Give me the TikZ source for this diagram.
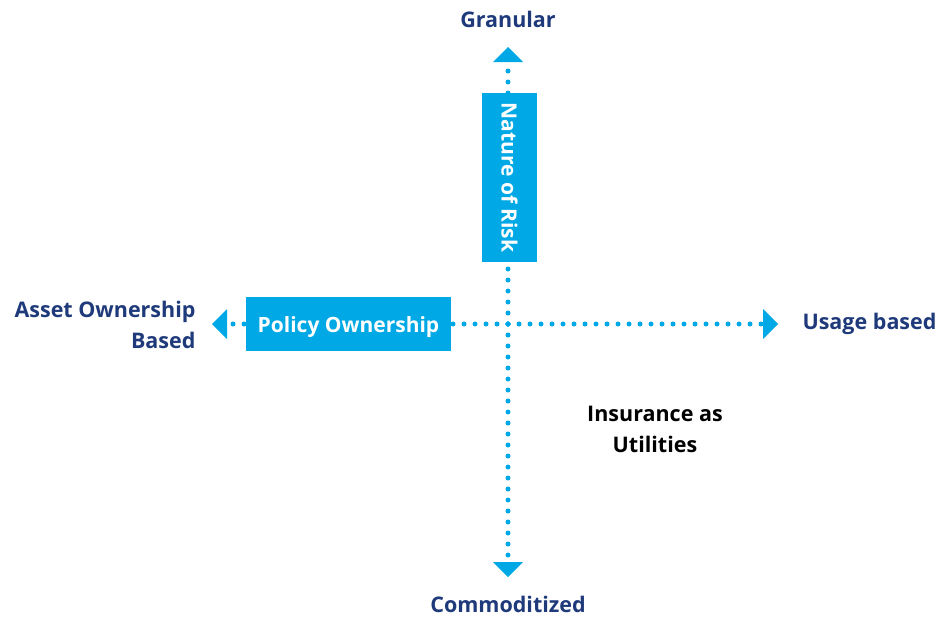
\documentclass[tikz,border=0pt]{standalone}
\usepackage{fontspec}
\setmainfont{Open Sans}
\usepackage{xcolor}
\usepackage{tikz}
\usetikzlibrary{arrows.meta,shapes,calc}

\definecolor{riskblue}{RGB}{0,169,230}
\definecolor{labelblue}{RGB}{31,58,122}

\begin{document}
\begin{tikzpicture}[x=1pt,y=-1pt]
            \tikzset{axis/.style = {riskblue, line width=5pt, line cap=round, dash pattern=on 0pt off 11pt}}
            \tikzset{tip/.style = {-{Triangle[width=30pt,length=15pt,line width=0pt]}}}
            \tikzset{box/.style = {fill=riskblue, text=white, font=\bfseries\fontsize{21}{25}\selectfont, inner sep=0pt}}
            \tikzset{end/.style = {text=labelblue, font=\bfseries\fontsize{21.5}{31}\selectfont}}
            \useasboundingbox (0,0) rectangle (941,621);
            
            % axis ends
            \coordinate (centre) at (508,324);
            \coordinate (up) at (508,47);
            \coordinate (down) at (508,577);
            \coordinate (left) at (212,324);
            \coordinate (right) at (778,324);
            
            % axes
            \draw[axis,tip] (centre) -- (up);
            \draw[axis,tip] (centre) -- (down);
            \draw[axis,tip] (centre) -- (left);
            \draw[axis,tip] (centre) -- (right);
            
            % boxes
            \node[box, minimum width=55pt, minimum height=169pt] (risk) at (509.5,177.5) {\rotatebox{-90}{Nature of Risk}};
            \node[box, minimum width=205pt, minimum height=54pt] (policy) at (348.5,324) {\raisebox{-3pt}[\height][\depth]{Policy Ownership}};
            
            % labels
            \node[end] (granular) at (508,19) {Granular};
            \node[end] (commod) at (508,604) {Commoditized};
            \node[end, anchor=west] (usage) at (799,324) {Usage based};
            \node[end, align=right, anchor=east] (asset) at (199,325) {Asset Ownership\\Based};
            \node[font=\bfseries\fontsize{21.5}{31}\selectfont, align=center] (utilities) at (655,429) {Insurance as\\Utilities};
            
          \end{tikzpicture}
\end{document}
